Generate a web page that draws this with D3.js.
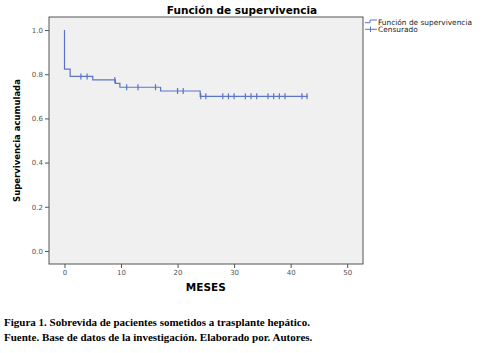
<!DOCTYPE html>
<html lang="es">
<head>
<meta charset="UTF-8">
<title>Función de supervivencia</title>
<style>
  body { margin: 0; background: #fff; overflow: hidden; }
  svg { display: block; }
  .tick text { font-family: "DejaVu Sans", sans-serif; font-size: 7px; fill: #555; }
  .caption { font-family: "Liberation Serif", serif; font-weight: bold; font-size: 11px; fill: #000; }
</style>
</head>
<body>
<svg width="483" height="353"></svg>
<script src="https://d3js.org/d3.v7.min.js"></script>
<script>
// survival steps: time where the curve drops, survival after the drop
const stepTimes = [0, 0, 1, 5, 9, 9.8, 17, 24];
const stepSurv = [1.0, 0.823, 0.79, 0.774, 0.759, 0.741, 0.724, 0.70];
const endTime = 43;
// censored observations
const censTimes = [2.9, 4, 8.9, 11, 13, 16.1, 20, 21, 24.1, 25, 28, 29, 30, 32, 33, 34, 36, 37, 38, 39, 42, 42.9];
const xTicks = [0, 10, 20, 30, 40, 50];
const yTicks = [0.0, 0.2, 0.4, 0.6, 0.8, 1.0];

const svg = d3.select("svg");
const m = { left: 49, right: 363, top: 17, bottom: 264 };
const blue = "#5b74c8";

const x = d3.scaleLinear().domain([-2.74, 52.8]).range([m.left, m.right]);
const y = d3.scaleLinear().domain([-0.059, 1.059]).range([m.bottom, m.top]);

svg.append("rect")
  .attr("x", m.left).attr("y", m.top)
  .attr("width", m.right - m.left).attr("height", m.bottom - m.top)
  .attr("fill", "#f0f0f0").attr("stroke", "#555").attr("stroke-width", 1);

const xAxis = svg.append("g")
  .attr("transform", `translate(0,${m.bottom})`)
  .call(d3.axisBottom(x).tickValues(xTicks).tickFormat(d3.format("d")).tickSize(4).tickPadding(2));
const yAxis = svg.append("g")
  .attr("transform", `translate(${m.left},0)`)
  .call(d3.axisLeft(y).tickValues(yTicks).tickFormat(d3.format(".1f")).tickSize(4).tickPadding(2));
[xAxis, yAxis].forEach(a => {
  a.select(".domain").remove();
  a.selectAll(".tick line").attr("stroke", "#555");
});

// step curve
const pts = [];
stepTimes.forEach((t, i) => {
  if (i > 0) pts.push([t, stepSurv[i - 1]]);
  pts.push([t, stepSurv[i]]);
});
pts.push([endTime, stepSurv[stepSurv.length - 1]]);
svg.append("path")
  .attr("d", d3.line().x(d => x(d[0])).y(d => y(d[1]))(pts))
  .attr("fill", "none").attr("stroke", blue).attr("stroke-width", 1.2);

function survAt(t) {
  let s = 1;
  stepTimes.forEach((st, i) => { if (st <= t) s = stepSurv[i]; });
  return s;
}
svg.selectAll("line.cens")
  .data(censTimes).join("line")
  .attr("class", "cens")
  .attr("x1", d => x(d)).attr("x2", d => x(d))
  .attr("y1", d => y(survAt(d)) - 3).attr("y2", d => y(survAt(d)) + 3)
  .attr("stroke", blue).attr("stroke-width", 1.2);

// title
svg.append("text")
  .attr("x", 242).attr("y", 13.5).attr("text-anchor", "middle")
  .style("font-family", "DejaVu Sans, sans-serif").style("font-weight", "bold").style("font-size", "10.5px")
  .text("Función de supervivencia");

// axis titles
svg.append("text")
  .attr("x", x(25)).attr("y", 291).attr("text-anchor", "middle")
  .style("font-family", "DejaVu Sans, sans-serif").style("font-weight", "bold").style("font-size", "10.5px")
  .text("MESES");
svg.append("text")
  .attr("transform", `translate(20,${(m.top + m.bottom) / 2}) rotate(-90)`)
  .attr("text-anchor", "middle")
  .style("font-family", "DejaVu Sans, sans-serif").style("font-weight", "bold").style("font-size", "8.5px")
  .text("Supervivencia acumulada");

// legend
const lg = svg.append("g").attr("fill", "none").attr("stroke", blue).attr("stroke-width", 1);
lg.append("path").attr("d", "M365,22.7H370V20H377");
lg.append("path").attr("d", "M365,29.3H377M370.5,26.5V32");
const legendText = ["Función de supervivencia", "Censurado"];
svg.selectAll("text.leg").data(legendText).join("text")
  .attr("class", "leg")
  .attr("x", 378).attr("y", (d, i) => 24.5 + i * 7.5)
  .style("font-family", "DejaVu Sans, sans-serif").style("font-size", "7.4px").attr("fill", "#222")
  .text(d => d);

// caption
const captions = [
  "Figura 1. Sobrevida de pacientes sometidos a trasplante hepático.",
  "Fuente. Base de datos de la investigación. Elaborado por. Autores."
];
svg.selectAll("text.caption").data(captions).join("text")
  .attr("class", "caption")
  .attr("x", 4).attr("y", (d, i) => 325.5 + i * 15)
  .text(d => d);
</script>
</body>
</html>
